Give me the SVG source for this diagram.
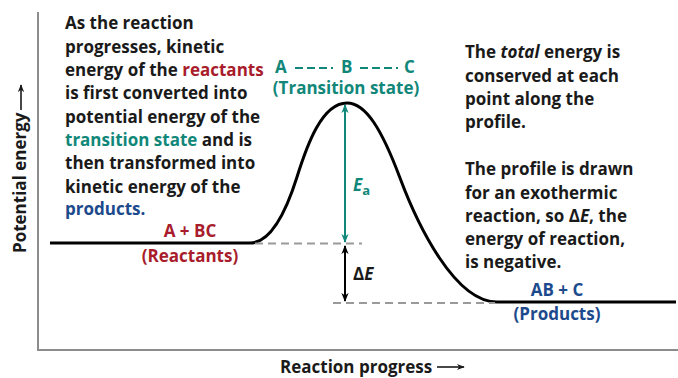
<svg xmlns="http://www.w3.org/2000/svg" width="678" height="378" viewBox="0 0 678 378">
<defs>
<style>
text{font-family:"Open Sans","Noto Sans","DejaVu Sans",sans-serif;font-weight:700;font-size:17px;fill:#1a1a1a}
.red{fill:#a81c2c}
.teal{fill:#11877a}
.blue{fill:#1c4a8c}
.it{font-style:italic}
.mid{text-anchor:middle}
.axis{stroke:#8c8c8c;stroke-width:2;fill:none}
.dash{stroke:#9a9a9a;stroke-width:2;stroke-dasharray:8 5;fill:none}
.curve{stroke:#000;stroke-width:3;fill:none;stroke-linejoin:round}
</style>
<marker id="ht" viewBox="0 0 10 10" refX="9" refY="5" markerWidth="9" markerHeight="9" markerUnits="userSpaceOnUse" orient="auto-start-reverse">
<path d="M0,1 L10,5 L0,9 L3,5 Z" fill="#11877a"/>
</marker>
<marker id="hb" viewBox="0 0 10 10" refX="9" refY="5" markerWidth="9" markerHeight="9" markerUnits="userSpaceOnUse" orient="auto-start-reverse">
<path d="M0,1 L10,5 L0,9 L3,5 Z" fill="#000"/>
</marker>
<marker id="ha" viewBox="0 0 10 10" refX="9" refY="5" markerWidth="8" markerHeight="8" markerUnits="userSpaceOnUse" orient="auto">
<path d="M0,1 L10,5 L0,9 L3,5 Z" fill="#1a1a1a"/>
</marker>
</defs>
<rect width="678" height="378" fill="#fff"/>

<g id="axes">
<path class="axis" d="M38,12 V350 H678"/>
<text id="y-label" transform="translate(26,253) rotate(-90)">Potential energy</text>
<line x1="21" y1="110" x2="21" y2="85" stroke="#1a1a1a" stroke-width="1.6" marker-end="url(#ha)"/>
<text id="x-label" x="280" y="373">Reaction progress</text>
<line x1="437" y1="367" x2="464" y2="367" stroke="#1a1a1a" stroke-width="1.6" marker-end="url(#ha)"/>
</g>

<g id="connectors">
<path id="profile" class="curve" d="M50,243 H250 C270,243 285,215 297,177 C307,145 322,103 347,103 C366,103 382,130 400,178 C418,226 455,302 497,302 H676"/>
<line class="dash" x1="255" y1="243.5" x2="362" y2="243.5"/>
<line class="dash" x1="333" y1="303" x2="495" y2="303"/>
<line id="ea-arrow" x1="345" y1="242" x2="345" y2="105" stroke="#11877a" stroke-width="2" marker-start="url(#ht)" marker-end="url(#ht)"/>
<line id="de-arrow" x1="345" y1="246" x2="345" y2="301" stroke="#000" stroke-width="2" marker-start="url(#hb)" marker-end="url(#hb)"/>
</g>

<g id="left-note">
<text x="65" y="29">As the reaction</text>
<text x="65" y="52.5">progresses, kinetic</text>
<text x="65" y="76">energy of the <tspan class="red">reactants</tspan></text>
<text x="65" y="99">is first converted into</text>
<text x="65" y="122.5">potential energy of the</text>
<text x="65" y="146"><tspan class="teal">transition state</tspan> and is</text>
<text x="65" y="169">then transformed into</text>
<text x="65" y="192.5">kinetic energy of the</text>
<text x="65" y="215" class="blue">products.</text>
</g>

<g id="transition-state">
<text x="275" y="73" class="teal">A</text>
<path d="M295,68 H337" stroke="#11877a" stroke-width="2" stroke-dasharray="8 4 8 4 8 4 2 4"/>
<text x="341" y="73" class="teal">B</text>
<path d="M360,68 H402" stroke="#11877a" stroke-width="2" stroke-dasharray="8 4 8 4 8 4 2 4"/>
<text x="404" y="73" class="teal">C</text>
<text x="346" y="94" class="teal mid">(Transition state)</text>
</g>

<g id="ea-label">
<text x="353" y="191" class="teal"><tspan class="it">E</tspan><tspan font-size="13" dy="4">a</tspan></text>
</g>
<g id="de-label">
<text x="353" y="280">Δ<tspan class="it">E</tspan></text>
</g>

<g id="reactants">
<text x="190" y="237" class="red mid">A + BC</text>
<text x="190" y="262" class="red mid">(Reactants)</text>
</g>

<g id="products">
<text x="557" y="296" class="blue mid">AB + C</text>
<text x="557" y="320" class="blue mid">(Products)</text>
</g>

<g id="right-note">
<text x="465" y="58">The <tspan class="it">total</tspan> energy is</text>
<text x="465" y="81.5">conserved at each</text>
<text x="465" y="105">point along the</text>
<text x="465" y="128">profile.</text>
<text x="465" y="175">The profile is drawn</text>
<text x="465" y="198.5">for an exothermic</text>
<text x="465" y="222">reaction, so Δ<tspan class="it">E</tspan>, the</text>
<text x="465" y="245">energy of reaction,</text>
<text x="465" y="267.5">is negative.</text>
</g>
</svg>
